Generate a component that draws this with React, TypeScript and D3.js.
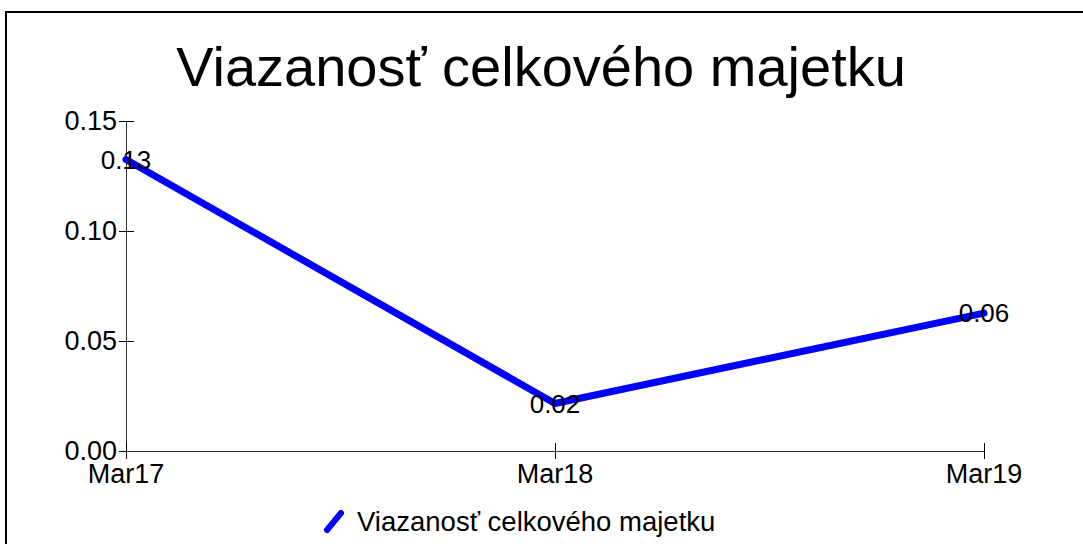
import React, { useEffect, useRef } from 'react';
import * as d3 from 'd3';

const categories = ['Mar17', 'Mar18', 'Mar19'];
const values = [0.1325, 0.0216, 0.0627];
const valueLabels = ['0.13', '0.02', '0.06'];
const yTicks = [0, 0.05, 0.1, 0.15];
const title = 'Viazanosť celkového majetku';
const seriesName = 'Viazanosť celkového majetku';

const App = () => {
    const ref = useRef<SVGSVGElement | null>(null);

    useEffect(() => {
        const width = 1083;
        const height = 544;
        const font = 'Liberation Sans, Arial, sans-serif';
        const svg = d3.select(ref.current);
        svg.selectAll('*').remove();

        // outer frame (only top and left edges show in the picture)
        svg.append('rect')
            .attr('x', 6).attr('y', 12)
            .attr('width', 1200).attr('height', 700)
            .attr('fill', 'white')
            .attr('stroke', 'black')
            .attr('stroke-width', 2);

        svg.append('text')
            .attr('x', 541).attr('y', 86)
            .attr('text-anchor', 'middle')
            .style('font-family', font)
            .style('font-size', '56px')
            .text(title);

        const x = d3.scalePoint().domain(categories).range([126, 984]);
        const y = d3.scaleLinear().domain([0, 0.15]).range([451, 121]);

        const axisColor = '#333';

        // y axis
        svg.append('line')
            .attr('x1', x('Mar17')! + 0.5).attr('x2', x('Mar17')! + 0.5)
            .attr('y1', y(0.15)).attr('y2', y(0))
            .attr('stroke', axisColor);
        const yt = svg.append('g').selectAll('g').data(yTicks).join('g');
        yt.append('line')
            .attr('x1', 119).attr('x2', 134)
            .attr('y1', d => y(d) + 0.5).attr('y2', d => y(d) + 0.5)
            .attr('stroke', 'black');
        yt.append('text')
            .attr('x', 117).attr('y', d => y(d))
            .attr('dy', '0.35em')
            .attr('text-anchor', 'end')
            .style('font-family', font)
            .style('font-size', '27px')
            .text(d => d.toFixed(2));

        // x axis
        svg.append('line')
            .attr('x1', x('Mar17')!).attr('x2', x('Mar19')!)
            .attr('y1', y(0) + 0.5).attr('y2', y(0) + 0.5)
            .attr('stroke', axisColor);
        const xt = svg.append('g').selectAll('g').data(categories).join('g');
        xt.append('line')
            .attr('x1', d => x(d)! + 0.5).attr('x2', d => x(d)! + 0.5)
            .attr('y1', y(0) - 8).attr('y2', y(0) + 8)
            .attr('stroke', 'black');
        xt.append('text')
            .attr('x', d => x(d)!).attr('y', y(0) + 32)
            .attr('text-anchor', 'middle')
            .style('font-family', font)
            .style('font-size', '27px')
            .text(d => d);

        // series line
        const pts = categories.map((c, i) => [x(c)!, y(values[i])] as [number, number]);
        svg.append('path')
            .attr('d', d3.line()(pts)!)
            .attr('fill', 'none')
            .attr('stroke', '#0000ff')
            .attr('stroke-width', 7)
            .attr('stroke-linecap', 'round')
            .attr('stroke-linejoin', 'round');

        svg.append('g').selectAll('text').data(categories).join('text')
            .attr('x', (d) => x(d)!)
            .attr('y', (d, i) => y(values[i]))
            .attr('dy', '0.35em')
            .attr('text-anchor', 'middle')
            .style('font-family', font)
            .style('font-size', '26px')
            .text((d, i) => valueLabels[i]);

        // legend
        svg.append('line')
            .attr('x1', 327).attr('y1', 530)
            .attr('x2', 341).attr('y2', 513)
            .attr('stroke', '#0000ff')
            .attr('stroke-width', 6)
            .attr('stroke-linecap', 'round');
        svg.append('text')
            .attr('x', 357).attr('y', 531)
            .style('font-family', font)
            .style('font-size', '27.5px')
            .text(seriesName);

        svg.attr('width', width).attr('height', height);
    }, []);

    return <svg ref={ref} width={1083} height={544}
        style={{ position: 'absolute', left: 0, top: 0, background: 'white' }} />;
};

export default App;
